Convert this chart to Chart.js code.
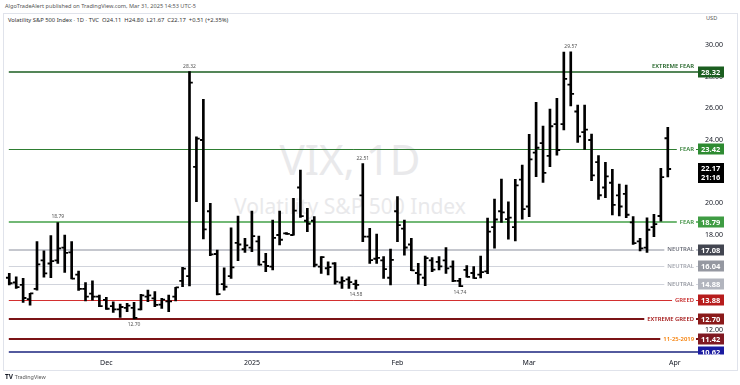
<!DOCTYPE html>
<html>
<head>
<meta charset="utf-8">
<script src="https://cdn.jsdelivr.net/npm/chart.js@4.4.1/dist/chart.umd.min.js"></script>
<style>
  html, body { margin: 0; padding: 0; background: #fff; }
  #wrap { position: relative; width: 740px; height: 385px; overflow: hidden; font-family: "Noto Sans", sans-serif; }
  .t { position: absolute; white-space: nowrap; line-height: 1; }
  #frame { position: absolute; left: 3px; top: 13px; width: 733px; height: 356px; border: 1px solid #e0e3eb; }
  #wm1, #wm2 { position: absolute; left: 0; width: 700px; text-align: center; color: #e9e9eb; white-space: nowrap; line-height: 1; }
  #wm1 { top: 138px; font-size: 42px; }
  #wm2 { top: 196px; font-size: 21px; }
  canvas { position: absolute; left: 0; top: 0; }
</style>
</head>
<body>
<div id="wrap">
  <div class="t" style="left:5px;top:4px;font-size:5.6px;color:#555">AlgoTradeAlert published on TradingView.com, Mar 31, 2025 14:53 UTC-5</div>
  <div id="frame"></div>
  <div class="t" style="left:8px;top:18px;font-size:5.8px;color:#333">Volatility S&amp;P 500 Index · 1D · TVC &nbsp;O24.11 &nbsp;H24.80 &nbsp;L21.67 &nbsp;C22.17 &nbsp;+0.51 (+2.35%)</div>
  <div class="t" style="left:706px;top:16px;font-size:5.6px;color:#555">USD</div>
  <div id="wm1">VIX, 1D</div>
  <div id="wm2">Volatility S&amp;P 500 Index</div>
  <canvas id="vix" width="740" height="385"></canvas>
  <div class="t" style="left:5px;top:374px;font-size:6.5px;font-weight:bold;color:#131722">TV <span style="font-size:5.4px;font-weight:normal;color:#555">TradingView</span></div>
</div>
<script>
// daily sessions, Nov 11 2024 .. Mar 31 2025, plus empty room on the right
const dates = [
  '2024-11-11','2024-11-12','2024-11-13','2024-11-14','2024-11-15','2024-11-18','2024-11-19','2024-11-20','2024-11-21','2024-11-22',
  '2024-11-25','2024-11-26','2024-11-27','2024-11-29',
  '2024-12-02','2024-12-03','2024-12-04','2024-12-05','2024-12-06','2024-12-09','2024-12-10','2024-12-11','2024-12-12','2024-12-13',
  '2024-12-16','2024-12-17','2024-12-18','2024-12-19','2024-12-20','2024-12-23','2024-12-24','2024-12-26','2024-12-27','2024-12-30','2024-12-31',
  '2025-01-02','2025-01-03','2025-01-06','2025-01-07','2025-01-08','2025-01-09','2025-01-10','2025-01-13','2025-01-14','2025-01-15',
  '2025-01-16','2025-01-17','2025-01-21','2025-01-22','2025-01-23','2025-01-24','2025-01-27','2025-01-28','2025-01-29','2025-01-30','2025-01-31',
  '2025-02-03','2025-02-04','2025-02-05','2025-02-06','2025-02-07','2025-02-10','2025-02-11','2025-02-12','2025-02-13','2025-02-14',
  '2025-02-18','2025-02-19','2025-02-20','2025-02-21','2025-02-24','2025-02-25','2025-02-26','2025-02-27','2025-02-28',
  '2025-03-03','2025-03-04','2025-03-05','2025-03-06','2025-03-07','2025-03-10','2025-03-11','2025-03-12','2025-03-13','2025-03-14',
  '2025-03-17','2025-03-18','2025-03-19','2025-03-20','2025-03-21','2025-03-24','2025-03-25','2025-03-26','2025-03-27','2025-03-28','2025-03-31',
  '2025-04-01','2025-04-02','2025-04-03','2025-04-04'
];

const opens = [
  15.30,15.00,14.85,13.95,14.60,16.40,16.20,16.40,17.20,16.90,15.50,14.60,14.30,14.10,
  13.90,13.50,13.30,13.40,13.40,13.30,14.10,14.00,13.60,13.80,14.10,15.10,15.40,22.30,24.00,19.50,16.80,14.90,15.40,17.50,17.10,
  17.20,17.60,16.30,16.00,18.00,18.10,18.00,21.00,18.90,18.90,16.00,15.90,16.20,15.00,15.20,14.90,20.50,17.90,16.50,16.40,15.30,
  19.50,18.40,17.40,15.60,15.30,16.40,16.30,16.40,16.00,15.10,15.80,15.60,15.50,15.70,18.50,19.50,19.00,18.50,21.50,
  19.80,23.20,23.80,23.00,25.00,25.00,27.50,25.80,24.50,24.00,22.60,21.00,21.30,20.50,20.60,18.80,17.60,17.20,18.50,19.20,24.11
];
const highs = [
  15.57,15.36,15.26,14.31,17.58,17.00,17.96,18.79,18.00,17.58,15.72,14.99,15.11,14.21,
  14.06,13.78,13.64,13.68,13.74,14.25,14.52,14.42,14.00,14.21,14.69,15.95,28.32,24.20,26.57,20.00,17.05,15.93,18.46,19.20,17.79,
  19.51,17.93,16.84,18.94,19.51,18.15,20.31,22.10,19.68,19.16,16.63,16.31,16.25,15.36,15.36,15.15,22.51,18.42,18.06,16.63,17.11,
  20.42,18.94,17.79,16.21,16.67,16.57,16.63,17.20,16.36,15.26,16.06,16.00,16.67,19.07,20.27,21.53,20.10,21.51,22.42,
  24.36,26.38,24.88,25.96,26.63,29.56,29.57,26.21,26.21,24.38,23.01,22.59,22.15,21.22,21.16,19.16,17.79,19.09,19.30,22.21,24.80
];
const lows = [
  14.84,14.63,13.74,13.57,14.52,15.33,15.31,16.21,15.64,15.22,14.50,13.83,13.89,13.47,
  13.30,13.11,12.79,13.15,12.70,13.26,13.78,13.47,13.36,13.15,13.83,14.73,14.78,20.10,17.75,16.69,14.21,14.52,15.26,16.38,16.90,
  16.94,16.10,15.68,15.79,17.37,18.03,17.99,19.11,18.21,15.99,15.58,15.47,14.90,14.63,14.62,14.58,17.58,16.21,16.21,15.26,14.84,
  17.58,16.73,15.74,14.90,14.80,15.68,15.79,15.58,15.05,14.74,15.33,15.26,15.28,15.55,17.17,18.80,17.74,17.62,19.00,
  19.16,21.68,21.32,22.31,23.05,24.63,26.15,23.85,23.41,21.43,20.25,20.36,19.26,19.20,19.09,17.41,17.00,16.90,17.89,18.88,21.67
];
const closes = [
  14.95,14.71,14.02,14.31,16.14,15.58,16.35,17.16,16.87,15.24,14.60,14.10,14.10,13.51,
  13.34,13.30,13.45,13.54,12.77,14.19,14.18,13.58,13.92,13.81,14.69,15.87,27.62,24.09,18.36,16.78,14.27,14.73,15.95,17.40,17.35,
  17.93,16.13,16.04,17.82,17.70,18.07,19.54,19.19,18.71,16.12,16.60,15.97,15.06,15.10,15.02,14.85,17.90,16.41,16.56,15.84,16.43,
  18.62,17.21,15.77,15.50,16.54,15.81,16.02,15.89,15.10,14.77,15.35,15.27,15.66,18.21,18.98,19.43,19.10,21.13,19.63,
  22.78,23.51,21.93,24.87,23.37,27.86,26.92,24.23,24.66,21.77,20.51,21.70,19.90,19.80,19.28,17.48,17.15,18.33,18.69,21.65,22.17
];

// time axis labels
const xTickDates = ['2024-12-02', '2025-01-02', '2025-02-03', '2025-03-03', '2025-04-01'];
const xTickNames = ['Dec', '2025', 'Feb', 'Mar', 'Apr'];
const yTicks = [12, 14, 16, 18, 20, 22, 24, 26, 28, 30];

// marked swing highs / lows (session index)
const pivotHighIdx = [7, 26, 51, 81];
const pivotLowIdx = [18, 50, 65];

// sentiment levels
const levelValues = [28.32, 23.42, 18.79, 17.08, 16.04, 14.88, 13.88, 12.70, 11.42, 10.62];
const levelNames = ['EXTREME FEAR', 'FEAR', 'FEAR', 'NEUTRAL', 'NEUTRAL', 'NEUTRAL', 'GREED', 'EXTREME GREED', '11-25-2019', ''];
const countdown = '21:16';

// level styling
const levelLine = ['#1b5e20', '#2e7d32', '#43a047', '#b2b5be', '#d1d4dc', '#d1d4dc', '#d32f2f', '#7b1416', '#7b1416', '#1a237e'];
const levelWidth = [1.5, 1, 1.5, 1.5, 1, 1, 1, 2, 2, 1.5];
const levelText = ['#1b5e20', '#2e7d32', '#388e3c', '#6a6d78', '#a3a6af', '#9598a1', '#c62828', '#a31515', '#f57c00', '#fff'];
const levelTag = ['#1b5e20', '#2e8b32', '#3f9c43', '#434651', '#9598a1', '#b2b5be', '#b71c1c', '#8b1a1a', '#801922', '#1a1aa0'];

const tagFont = 'bold 7.5px "Noto Sans"';

const levelsPlugin = {
  id: 'levels',
  beforeDatasetsDraw(chart) {
    const {ctx, chartArea: a, scales: {y}} = chart;
    ctx.save();
    levelValues.forEach((v, i) => {
      let py = Math.round(y.getPixelForValue(v));
      if (levelWidth[i] % 2 === 1) py += 0.5;
      ctx.strokeStyle = levelLine[i];
      ctx.lineWidth = levelWidth[i];
      ctx.beginPath();
      ctx.moveTo(a.left + 3, py);
      ctx.lineTo(a.right, py);
      ctx.stroke();
    });
    ctx.restore();
  },
  afterDatasetsDraw(chart) {
    const {ctx, scales: {x, y}} = chart;
    ctx.save();
    ctx.font = '5px "Noto Sans"';
    ctx.fillStyle = '#555';
    ctx.textAlign = 'center';
    ctx.textBaseline = 'bottom';
    pivotHighIdx.forEach(i => {
      ctx.fillText(highs[i].toFixed(2), x.getPixelForValue(i), y.getPixelForValue(highs[i]) - 3);
    });
    ctx.textBaseline = 'top';
    pivotLowIdx.forEach(i => {
      ctx.fillText(lows[i].toFixed(2), x.getPixelForValue(i), y.getPixelForValue(lows[i]) + 3);
    });
    ctx.restore();
  },
  afterDraw(chart) {
    const {ctx, chartArea: a, scales: {y}} = chart;
    ctx.save();
    // names on the lines
    ctx.font = '600 5.9px "Noto Sans"';
    ctx.textAlign = 'right';
    ctx.textBaseline = 'middle';
    levelValues.forEach((v, i) => {
      if (!levelNames[i]) return;
      const py = y.getPixelForValue(v);
      const tx = a.right - 5;
      if (i === 0) {
        ctx.fillStyle = levelText[i];
        ctx.fillText(levelNames[i], tx, py - 5);
        return;
      }
      const w = ctx.measureText(levelNames[i]).width;
      ctx.fillStyle = '#fff';
      ctx.fillRect(tx - w - 3, py - 3, w + 5, 6);
      ctx.fillStyle = levelText[i];
      ctx.fillText(levelNames[i], tx, py);
    });
    // price tags on the scale
    ctx.beginPath();
    ctx.rect(a.right - 2, a.top, 60, a.bottom - a.top);
    ctx.clip();
    ctx.font = tagFont;
    ctx.textAlign = 'left';
    levelValues.forEach((v, i) => {
      const py = Math.round(y.getPixelForValue(v));
      ctx.fillStyle = levelTag[i];
      ctx.fillRect(a.right - 1, py - 5.5, 26, 11);
      ctx.fillStyle = '#fff';
      ctx.fillText(v.toFixed(2), a.right + 2, py + 0.5);
    });
    const last = closes[closes.length - 1];
    const cy = Math.round(y.getPixelForValue(last));
    ctx.fillStyle = '#000';
    ctx.fillRect(a.right - 1, cy - 6, 26, 20);
    ctx.fillStyle = '#fff';
    ctx.fillText(last.toFixed(2), a.right + 2, cy);
    ctx.fillText(countdown, a.right + 2, cy + 9);
    ctx.restore();
  }
};

new Chart(document.getElementById('vix'), {
  type: 'bar',
  data: {
    labels: dates,
    datasets: [
      {
        label: 'range',
        data: highs.map((h, i) => [lows[i], h]),
        backgroundColor: '#000',
        borderWidth: 0,
        barThickness: 2,
        grouped: false,
        order: 3
      },
      {
        type: 'line',
        label: 'open',
        data: opens,
        showLine: false,
        pointStyle: 'dash',
        pointRotation: 180,
        pointRadius: 3.3,
        pointBorderWidth: 1.8,
        pointBorderColor: '#000',
        order: 2
      },
      {
        type: 'line',
        label: 'close',
        data: closes,
        showLine: false,
        pointStyle: 'dash',
        pointRotation: 0,
        pointRadius: 3.3,
        pointBorderWidth: 1.8,
        pointBorderColor: '#000',
        order: 1
      }
    ]
  },
  options: {
    responsive: false,
    animation: false,
    devicePixelRatio: 1,
    layout: { padding: { top: 30, left: 0.6, right: 0, bottom: 0 } },
    plugins: { legend: { display: false }, tooltip: { enabled: false } },
    scales: {
      x: {
        type: 'category',
        offset: true,
        grid: { display: false, drawTicks: false },
        border: { display: false },
        ticks: {
          autoSkip: false,
          maxRotation: 0,
          padding: 4,
          color: '#131722',
          font: { family: 'Noto Sans', size: 7 },
          callback: (v, i) => {
            const k = xTickDates.indexOf(dates[i]);
            return k < 0 ? '' : xTickNames[k];
          }
        },
        afterFit: s => { s.height = 30.5; }
      },
      y: {
        position: 'right',
        min: 10.45,
        max: 30.95,
        grid: { display: false, drawTicks: false },
        border: { display: false },
        afterBuildTicks: s => { s.ticks = yTicks.map(v => ({ value: v })); },
        ticks: {
          padding: 6,
          color: '#131722',
          font: { family: 'Noto Sans', size: 7 },
          callback: v => Number(v).toFixed(2)
        },
        afterFit: s => { s.width = 41; }
      }
    }
  },
  plugins: [levelsPlugin]
});
</script>
</body>
</html>
